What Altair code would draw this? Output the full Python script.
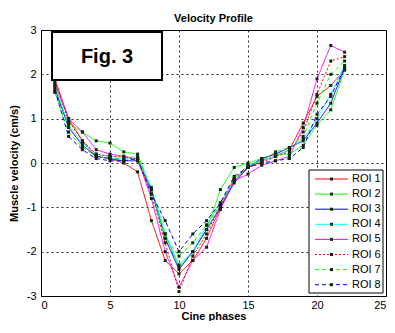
import altair as alt
import pandas as pd

phases = list(range(1, 23))
roi_names = ["ROI 1", "ROI 2", "ROI 3", "ROI 4", "ROI 5", "ROI 6", "ROI 7", "ROI 8"]

roi1 = [1.9, 1.0, 0.5, 0.15, 0.1, 0.0, -0.2, -1.3, -2.2, -2.5, -2.2, -1.7, -1.0, -0.4, -0.1, 0.05, 0.15, 0.3, 0.9, 1.5, 1.75, 2.1]
roi2 = [1.6, 0.9, 0.7, 0.5, 0.45, 0.25, 0.2, -0.6, -1.6, -2.35, -2.0, -1.5, -0.6, -0.1, 0.0, 0.1, 0.2, 0.2, 0.4, 0.85, 1.2, 2.1]
roi3 = [1.7, 0.8, 0.4, 0.15, 0.1, 0.05, 0.05, -0.6, -1.7, -2.4, -2.0, -1.5, -1.0, -0.45, -0.1, 0.1, 0.2, 0.35, 0.5, 0.9, 1.35, 2.15]
roi4 = [1.75, 0.85, 0.45, 0.2, 0.15, 0.1, 0.1, -0.55, -1.6, -2.3, -2.0, -1.4, -0.9, -0.4, -0.05, 0.05, 0.15, 0.3, 0.55, 1.0, 1.55, 2.2]
roi5 = [1.8, 1.0, 0.7, 0.3, 0.2, 0.15, 0.1, -0.8, -2.0, -2.8, -2.2, -1.9, -1.05, -0.4, -0.25, -0.05, 0.05, 0.15, 0.8, 1.9, 2.65, 2.5]
roi6 = [1.85, 0.95, 0.5, 0.2, 0.15, 0.15, 0.05, -0.7, -1.8, -2.9, -2.1, -1.6, -0.95, -0.35, -0.1, 0.0, 0.15, 0.25, 0.7, 1.55, 2.3, 2.4]
roi7 = [1.6, 0.7, 0.35, 0.15, 0.1, 0.1, 0.15, -0.6, -1.7, -2.1, -1.8, -1.4, -0.95, -0.35, -0.05, 0.05, 0.25, 0.35, 0.6, 1.35, 2.0, 2.3]
roi8 = [1.65, 0.6, 0.3, 0.1, 0.05, 0.05, 0.1, -0.7, -1.3, -2.0, -1.6, -1.3, -0.9, -0.3, -0.1, 0.0, 0.05, 0.1, 0.35, 1.1, 1.5, 2.15]

series = [roi1, roi2, roi3, roi4, roi5, roi6, roi7, roi8]
colors = ["#ff0000", "#00ff00", "#0000ff", "#00ffff", "#ff00ff", "#ff0000", "#00ff00", "#0000ff"]
dashes = [[1, 0], [1, 0], [1, 0], [1, 0], [1, 0], [2, 2], [4, 3], [4, 3]]

rows = []
for name, vals in zip(roi_names, series):
    for p, v in zip(phases, vals):
        rows.append({"phase": p, "velocity": v, "ROI": name})
df = pd.DataFrame(rows)

color_scale = alt.Scale(domain=roi_names, range=colors)
dash_scale = alt.Scale(domain=roi_names, range=dashes)

xenc = alt.X("phase:Q", scale=alt.Scale(domain=[0, 25], nice=False),
             axis=alt.Axis(values=[0, 5, 10, 15, 20, 25], title="Cine phases",
                           labelPadding=3, titlePadding=0, labelFlush=True))
yenc = alt.Y("velocity:Q", scale=alt.Scale(domain=[-3, 3], nice=False),
             axis=alt.Axis(values=[-3, -2, -1, 0, 1, 2, 3], title="Muscle velocity (cm/s)",
                           labelExpr="datum.value", labelPadding=5, titlePadding=7))

lines = alt.Chart(df).mark_line(strokeWidth=1).encode(
    x=xenc, y=yenc,
    color=alt.Color("ROI:N", scale=color_scale, legend=None),
    strokeDash=alt.StrokeDash("ROI:N", scale=dash_scale, legend=None),
    detail="ROI:N",
)
points = alt.Chart(df).mark_square(size=9, color="#0a2a0a", opacity=1).encode(
    x="phase:Q", y="velocity:Q"
)

one = pd.DataFrame({"a": [0]})
fig_box = alt.Chart(one).mark_rect(fill="white", stroke="black", strokeWidth=2).encode(
    x=alt.value(11), x2=alt.value(121), y=alt.value(2), y2=alt.value(50)
)
fig_text = alt.Chart(one).mark_text(text="Fig. 3", fontSize=20, fontWeight="bold",
                                    font="Liberation Sans", align="center", baseline="middle",
                                    color="black").encode(
    x=alt.value(66), y=alt.value(27)
)

leg_df = pd.DataFrame({"ROI": roi_names, "idx": list(range(len(roi_names)))})
leg_box = alt.Chart(one).mark_rect(fill="white", stroke="black", strokeWidth=1).encode(
    x=alt.value(268), x2=alt.value(342), y=alt.value(140), y2=alt.value(263)
)
leg_base = alt.Chart(leg_df).transform_calculate(
    ly="149 + datum.idx * 15.1", lx1="274", lx2="307", mx="290.5", tx="311"
)
leg_lines = leg_base.mark_rule(strokeWidth=1).encode(
    x=alt.X("lx1:Q", scale=None), x2="lx2:Q", y=alt.Y("ly:Q", scale=None),
    color=alt.Color("ROI:N", scale=color_scale, legend=None),
    strokeDash=alt.StrokeDash("ROI:N", scale=dash_scale, legend=None),
)
leg_marks = leg_base.mark_square(size=9, color="#0a2a0a", opacity=1).encode(
    x=alt.X("mx:Q", scale=None), y=alt.Y("ly:Q", scale=None)
)
leg_text = leg_base.mark_text(align="left", baseline="middle", fontSize=11,
                              font="Liberation Sans", color="black").encode(
    x=alt.X("tx:Q", scale=None), y=alt.Y("ly:Q", scale=None), text="ROI:N"
)

chart = alt.layer(lines, points, fig_box, fig_text, leg_box, leg_lines, leg_marks, leg_text).properties(
    width=345, height=266,
    title=alt.TitleParams("Velocity Profile", fontSize=11, fontWeight="bold",
                          font="Liberation Sans", anchor="middle", offset=0, color="black"),
    autosize=alt.AutoSizeParams(type="none"),
    padding={"left": 33, "top": 22, "right": 1, "bottom": 25},
).configure_view(stroke="black", strokeWidth=1).configure_axis(
    labelFont="Liberation Sans", labelFontSize=11, labelColor="black",
    titleFont="Liberation Sans", titleFontSize=11, titleFontWeight="bold", titleColor="black",
    ticks=False, domain=False, grid=True, gridColor="black", gridDash=[2, 3], gridOpacity=0.85,
)

chart.save("out.html", embed_options={"renderer": "svg", "actions": False})
